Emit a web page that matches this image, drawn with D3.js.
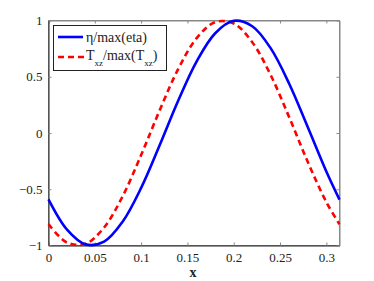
<!DOCTYPE html>
<html><head><meta charset="utf-8">
<script src="https://cdn.jsdelivr.net/npm/d3@7"></script>
<style>body{margin:0;background:#fff}svg{display:block} text{font-family:"Liberation Serif","Times New Roman","DejaVu Serif",serif !important;}</style>
</head><body>
<script>
const xValues = [0, 0.02, 0.04, 0.06, 0.08, 0.10, 0.12, 0.14, 0.16, 0.18, 0.20, 0.22, 0.24, 0.26, 0.28, 0.30, 0.3142];
const etaValues = [-0.590, -0.859, -0.990, -0.966, -0.789, -0.488, -0.109, 0.287, 0.637, 0.887, 0.997, 0.949, 0.752, 0.436, 0.051, -0.342, -0.592];
const txzValues = [-0.810, -0.974, -0.985, -0.840, -0.563, -0.196, 0.201, 0.568, 0.843, 0.986, 0.973, 0.807, 0.513, 0.138, -0.258, -0.614, -0.811];
const xTicks = [0, 0.05, 0.1, 0.15, 0.2, 0.25, 0.3];
const xTickLabels = ["0", "0.05", "0.1", "0.15", "0.2", "0.25", "0.3"];
const yTicks = [-1, -0.5, 0, 0.5, 1];
const yTickLabels = ["\u22121", "\u22120.5", "0", "0.5", "1"];

const W = 374, H = 281;
const L = 48.5, R = 339.5, T = 20.5, B = 245.5;
const font = "Liberation Serif";
const svg = d3.select("body").append("svg").attr("width", W).attr("height", H);

const x = d3.scaleLinear().domain([0, 0.3142]).range([L, R]);
const y = d3.scaleLinear().domain([-1, 1]).range([B, T]);

svg.append("rect").attr("x", L).attr("y", T).attr("width", R - L).attr("height", B - T)
  .attr("fill", "#fff").attr("stroke", "#888").attr("stroke-width", 1);

const xAxisB = d3.axisBottom(x).tickValues(xTicks).tickSizeInner(-3).tickSizeOuter(0)
  .tickFormat((d, i) => xTickLabels[i]).tickPadding(7);
const gxb = svg.append("g").attr("transform", `translate(0,${B})`).call(xAxisB);
const xAxisT = d3.axisTop(x).tickValues(xTicks).tickSizeInner(-3).tickSizeOuter(0).tickFormat("");
const gxt = svg.append("g").attr("transform", `translate(0,${T})`).call(xAxisT);
const yAxisL = d3.axisLeft(y).tickValues(yTicks).tickSizeInner(-3).tickSizeOuter(0)
  .tickFormat((d, i) => yTickLabels[i]).tickPadding(6);
const gyl = svg.append("g").attr("transform", `translate(${L},0)`).call(yAxisL);
const yAxisR = d3.axisRight(y).tickValues(yTicks).tickSizeInner(-3).tickSizeOuter(0).tickFormat("");
const gyr = svg.append("g").attr("transform", `translate(${R},0)`).call(yAxisR);

[gxb, gxt, gyl, gyr].forEach(g => {
  g.attr("font-family", font);
  g.select(".domain").attr("stroke", "#888");
  g.selectAll(".tick line").attr("stroke", "#888");
  g.selectAll("text").attr("font-family", font).attr("font-size", 13).attr("fill", "#222");
});
gyl.select(".domain").attr("stroke", "#222");
gxb.select(".domain").attr("stroke", "#222");

svg.append("text").attr("x", 193).attr("y", 277).attr("text-anchor", "middle")
  .attr("font-family", font).attr("font-size", 14).attr("font-weight", "bold").attr("fill", "#222").text("x");

const line = (vals) => d3.line().x((d, i) => x(xValues[i])).y(d => y(d)).curve(d3.curveCatmullRom.alpha(0.5))(vals);

svg.append("path").attr("d", line(txzValues)).attr("fill", "none")
  .attr("stroke", "#ff0000").attr("stroke-width", 2.6).attr("stroke-dasharray", "6,4");
svg.append("path").attr("d", line(etaValues)).attr("fill", "none")
  .attr("stroke", "#0000ff").attr("stroke-width", 2.6);

const lg = svg.append("g");
lg.append("rect").attr("x", 53.5).attr("y", 25.5).attr("width", 113).attr("height", 45)
  .attr("fill", "#fff").attr("stroke", "#222").attr("stroke-width", 1);
lg.append("line").attr("x1", 58).attr("x2", 83).attr("y1", 37).attr("y2", 37)
  .attr("stroke", "#0000ff").attr("stroke-width", 2.6);
lg.append("line").attr("x1", 58).attr("x2", 84).attr("y1", 57).attr("y2", 57)
  .attr("stroke", "#ff0000").attr("stroke-width", 2.6).attr("stroke-dasharray", "6,4");
lg.append("text").attr("x", 86).attr("y", 42).attr("font-family", font).attr("font-size", 14).attr("fill", "#222")
  .text("\u03b7/max(eta)");
const t2 = lg.append("text").attr("x", 86).attr("y", 60).attr("font-family", font).attr("font-size", 14).attr("fill", "#222");
t2.append("tspan").text("T");
t2.append("tspan").attr("dy", 6).attr("font-size", 9).text("xz");
t2.append("tspan").attr("dy", -6).text("/max(T");
t2.append("tspan").attr("dy", 6).attr("font-size", 9).text("xz");
t2.append("tspan").attr("dy", -6).text(")");
</script>
</body></html>
